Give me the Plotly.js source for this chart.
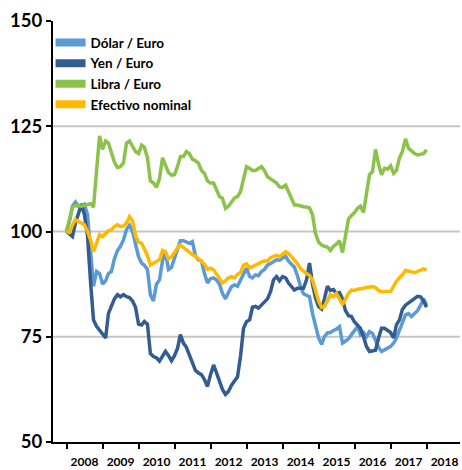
<!DOCTYPE html>
<html>
<head>
<meta charset="utf-8">
<script src="https://cdn.plot.ly/plotly-3.0.1.min.js"></script>
<style>html,body{margin:0;padding:0;background:#fff;}#chart{width:462px;height:470px;}</style>
</head>
<body>
<div id="chart"></div>
<script>
// Monthly series, Jan 2008 .. Jan 2018 (index 2008-01 = 100)
const startYear = 2008;
const seriesNames = ["Dólar / Euro", "Yen / Euro", "Libra / Euro", "Efectivo nominal"];
const seriesColors = ["#5B9BD5", "#335C91", "#8BC34A", "#FFB900"];

const dolarEuro = [
  100, 102.5, 106, 107, 106, 106.2, 106.5, 104, 95, 87,
  90.5, 90, 87.5, 88.3, 90, 90.5, 93.5, 95.5, 96.5, 98,
  100.5, 101.5, 100, 97, 94, 92.5, 92, 91, 85, 83.5,
  87.5, 88.5, 93, 95, 91, 91.5, 93.5, 96, 97.8, 97.8,
  97.6, 97.2, 97.6, 94.2, 93.3, 93, 90, 87.8, 88.8, 89,
  88.5, 87.5, 85.3, 84, 85.5, 86.9, 87.3, 87, 88.5, 90,
  91.3, 89.3, 89, 89.7, 89.5, 90.5, 91, 92, 92.3, 92.8,
  93.3, 93.2, 93.7, 94.1, 93, 92.3, 91.5, 89.5, 87, 85.2,
  84.9, 84.5, 80.5, 78, 74.8, 73.2, 75, 75.9, 76, 76.5,
  76.8, 77.4, 73.5, 74, 74.5, 75.5, 76.5, 77.4, 75.5, 76,
  75, 76.2, 75.8, 74, 72.5, 71.5, 72, 72.3, 72.7, 73.5,
  74.7, 76.5, 78.6, 80.2, 80.5, 79.8, 80.5, 81.2, 82.5, 84, 82.5
];
const yenEuro = [
  100, 99.5, 98.8, 102, 104, 106.5, 104, 99, 88, 79,
  77.5, 76.6, 75.5, 74.7, 80.5, 82.5, 84, 85, 84.5, 85,
  84.5, 84.3, 83.5, 82, 78, 77.8, 78.6, 78, 71, 70.3,
  70, 69.2, 70.5, 71.5, 70.5, 69.3, 70.5, 72.3, 75.5, 73.5,
  72.5, 70.7, 69.2, 67, 66.4, 66, 64.8, 63.2, 66, 68.3,
  66.5, 64.4, 62.5, 61.3, 62, 63.5, 64.4, 65.5, 70.5, 77,
  78.6, 79, 82, 82.2, 81.8, 82.5, 83.4, 84, 85.7, 88.5,
  89.3, 88.3, 89.3, 89, 87.8, 86.9, 86.1, 86.5, 86.5, 86.5,
  88.5, 92.5, 87.5, 84.2, 82.2, 81.6, 84, 87, 86, 86.2,
  85.3, 85.5, 84, 81.2, 80, 79.8, 78.5, 77.8, 77, 75,
  72.7, 71.5, 71.6, 71.8, 74.7, 77, 77, 76.5, 76, 74.7,
  77.8, 79, 81.5, 82.5, 83, 83.6, 84, 84.6, 84.5, 83.5, 82
];
const libraEuro = [
  100, 103.5, 105.8, 106.2, 106, 106, 106.2, 106.3, 106.6, 105.8,
  115, 122.7, 119.5, 121.5, 121, 119, 116.5, 115.2, 115.4, 116.3,
  121, 121.5, 120.3, 119, 118.5, 120.5, 120, 117.5, 112, 111.5,
  110.5, 112.5, 117.5, 115.5, 114, 113.4, 113.5, 115.5, 117.8, 117.8,
  119, 118.5, 117.2, 116.8, 116.2, 114.5, 113.8, 112, 111.5, 111.5,
  110, 108.3, 107.9, 105.5, 106, 107, 108, 108.3, 109.5, 112.5,
  115.4, 115, 114.5, 114.5, 115, 115.4, 114.5, 113, 112.5, 112,
  111.5, 110.6, 110.5, 111, 109.5, 107.5, 106.3, 106.3, 106, 105.9,
  105.8, 105.6, 104, 99.5, 97.5, 96.8, 96.5, 96.3, 95.5, 96.5,
  97, 97.8, 95, 99, 103, 103.8, 104.5, 105.5, 106, 104.5,
  109, 113.5, 114.2, 119.5, 116, 113.5, 115, 114.8, 115.6, 113.8,
  114.5, 117.5, 119, 122, 119.8, 119.2, 118.5, 118.2, 118.3, 118.5, 119.4
];
const efectivoNominal = [
  100, 99.8, 101.5, 102.8, 102.4, 102, 101.6, 100, 98, 95.2,
  97.5, 99.2, 98.8, 99.5, 100.2, 100.4, 101.2, 101.6, 101.2, 101.3,
  102, 103.5, 102.5, 99, 97.5, 97.2, 96, 94.3, 92, 92.5,
  93, 93.3, 95.5, 95.2, 93.5, 94, 95, 96.2, 96.8, 96.2,
  95.7, 95, 94.5, 94.2, 93.6, 93, 92.2, 91, 91.3, 90.9,
  89.8, 88.8, 87.8, 88.3, 89, 89.3, 89, 89.8, 90.3, 92,
  92.3, 91.3, 91.7, 92, 92.3, 92.8, 93, 93, 93.8, 94.1,
  94.4, 94, 94.7, 95.2, 94.8, 94, 93, 92.4, 91.2, 90.5,
  90, 89.6, 88.5, 86, 83.5, 82, 82.2, 83.5, 85, 84.5,
  85.3, 84, 82.6, 84, 85.3, 86.1, 86, 86.3, 86.5, 86.5,
  86.7, 86.9, 86.9, 86.7, 86, 85.7, 85.8, 85.7, 85.8, 87,
  88.2, 89, 89.7, 90.8, 90.7, 90.4, 90.2, 90.5, 91, 91.1, 90.8
];
const yTickVals = [50, 75, 100, 125, 150];
const gridValues = [75, 100, 125];

const seriesValues = [dolarEuro, yenEuro, libraEuro, efectivoNominal];

const dates = dolarEuro.map((_, i) => {
  const y = startYear + Math.floor(i / 12);
  const m = (i % 12) + 1;
  return y + "-" + (m < 10 ? "0" + m : m) + "-01";
});

const traces = [];
seriesValues.forEach((vals, k) => {
  traces.push({
    x: dates, y: vals, type: "scatter", mode: "lines",
    name: seriesNames[k], showlegend: false,
    line: {color: seriesColors[k], width: 3.5}, hoverinfo: "skip"
  });
});
// legend entries with thick swatches
seriesNames.forEach((n, k) => {
  traces.push({
    x: [null], y: [null], type: "scatter", mode: "lines",
    name: n, showlegend: true,
    line: {color: seriesColors[k], width: 8}
  });
});

const shapes = gridValues.map(v => ({
  type: "line", xref: "paper", x0: 0, x1: 1, yref: "y", y0: v, y1: v,
  line: {color: "#c6c6c6", width: 2}, layer: "below"
}));

const layout = {
  width: 462, height: 470,
  margin: {l: 53, r: 2, t: 21, b: 28, pad: 0},
  paper_bgcolor: "#fff", plot_bgcolor: "#fff",
  showlegend: true,
  legend: {
    x: -0.006, y: 0.985, xanchor: "left", yanchor: "top",
    bgcolor: "rgba(0,0,0,0)", tracegroupgap: 0,
    font: {family: "Lato, sans-serif", size: 13.5, weight: "bold", color: "#000"},
    itemwidth: 30
  },
  xaxis: {
    type: "date",
    range: ["2007-08-17", "2018-12-06"],
    tick0: "2008-01-01", dtick: "M12",
    tickformat: "%Y",
    ticklabelmode: "period",
    ticklabelstandoff: 3,
    ticks: "outside", ticklen: 5, tickwidth: 2, tickcolor: "#000",
    showline: true, linecolor: "#000", linewidth: 2,
    showgrid: false, zeroline: false,
    tickfont: {family: "Lato, sans-serif", size: 12, weight: "bold", color: "#000"},
    fixedrange: true
  },
  yaxis: {
    range: [50, 150],
    tickvals: yTickVals,
    ticks: "outside", ticklen: 5, tickwidth: 2, tickcolor: "#000",
    showline: true, linecolor: "#000", linewidth: 2,
    showgrid: false, zeroline: false,
    tickfont: {family: "Lato, sans-serif", size: 18.5, weight: "bold", color: "#000"},
    fixedrange: true
  },
  shapes: shapes
};

Plotly.newPlot("chart", traces, layout, {displayModeBar: false, staticPlot: true});
</script>
</body>
</html>
